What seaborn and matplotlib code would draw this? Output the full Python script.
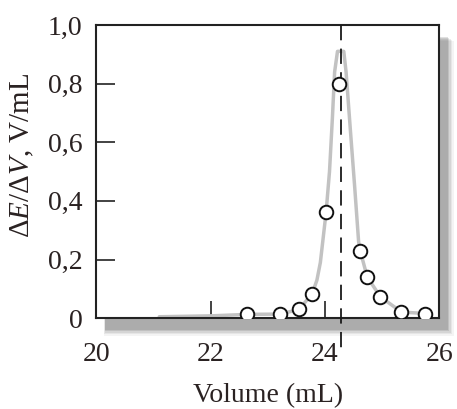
import numpy as np
import pandas as pd
import matplotlib
matplotlib.use("Agg")
import matplotlib.pyplot as plt
from matplotlib.patches import Rectangle
import seaborn as sns

# ---- data ----
vol_pts = [22.64, 23.21, 23.55, 23.78, 24.02, 24.25, 24.62, 24.74, 24.97, 25.34, 25.75]
dEdV_pts = [0.013, 0.014, 0.030, 0.084, 0.362, 0.800, 0.228, 0.141, 0.073, 0.021, 0.016]

curve_x = [21.1, 22.0, 22.64, 23.21, 23.55, 23.78, 23.86, 23.92, 24.02, 24.08, 24.13, 24.17,
           24.22, 24.33, 24.37, 24.45, 24.52, 24.59, 24.62, 24.74, 24.97, 25.34, 25.75, 25.85]
curve_y = [0.005, 0.008, 0.013, 0.014, 0.030, 0.085, 0.13, 0.19, 0.36, 0.50, 0.68, 0.84,
           0.91, 0.91, 0.84, 0.63, 0.45, 0.26, 0.228, 0.141, 0.073, 0.021, 0.016, 0.015]

endpoint_x = 24.29
x_ticks = [20, 22, 24, 26]
x_ticklabels = ["20", "22", "24", "26"]
y_ticks = [0, 0.2, 0.4, 0.6, 0.8, 1.0]
y_ticklabels = ["0", "0,2", "0,4", "0,6", "0,8", "1,0"]

sns.set_theme(style="white")
plt.rcParams["font.family"] = ["Liberation Serif", "DejaVu Serif"]
plt.rcParams["mathtext.fontset"] = "custom"
plt.rcParams["mathtext.rm"] = "Liberation Serif"
plt.rcParams["mathtext.it"] = "Liberation Serif:italic"
plt.rcParams["lines.scale_dashes"] = False

TXT = "#2a2222"

fig = plt.figure(figsize=(4.57, 4.09), dpi=100)
L, R, B, T = 0.211, 0.961, 0.222, 0.939
ax = fig.add_axes([L, B, R - L, T - B])
ax.set_facecolor("white")

# soft drop shadow (stacked translucent layers)
W, H = 457.0, 409.0
dx, dy = 9 / W, 12 / H
for a, grow in [(0.06, 6), (0.08, 4), (0.10, 2.5), (0.14, 1), (0.16, 0)]:
    gx, gy = grow / W, grow / H
    fig.patches.append(Rectangle((L + dx - gx * 0.3, B - dy - gy), (R - L) + gx * 1.3, (T - B) + gy * 0.3,
                                 transform=fig.transFigure, facecolor="#444444",
                                 alpha=a, edgecolor="none", zorder=-1))

curve_df = pd.DataFrame({"Volume": curve_x, "dEdV": curve_y})
pts_df = pd.DataFrame({"Volume": vol_pts, "dEdV": dEdV_pts})

sns.lineplot(data=curve_df, x="Volume", y="dEdV", ax=ax, color="#c2c2c2",
             linewidth=2.5, sort=False, zorder=2)

ax.plot([endpoint_x, endpoint_x], [1.0, -0.115], color="#1a1a1a", linewidth=1.3,
        dashes=(11, 6), clip_on=False, zorder=3)

sns.scatterplot(data=pts_df, x="Volume", y="dEdV", ax=ax, s=95, marker="o",
                facecolor="white", edgecolor="#111111", linewidth=1.4, zorder=4)

ax.set_xlim(20, 26)
ax.set_ylim(0, 1.0)
ax.set_xticks(x_ticks)
ax.set_xticklabels(x_ticklabels)
ax.set_yticks(y_ticks)
ax.set_yticklabels(y_ticklabels)

for s in ax.spines.values():
    s.set_visible(True)
    s.set_color("#222222")
    s.set_linewidth(1.5)

ax.tick_params(axis="x", direction="in", length=12.5, width=1.2, color="#222222",
               pad=17, labelsize=20, labelcolor=TXT, bottom=True)
ax.tick_params(axis="y", direction="in", length=14, width=1.2, color="#222222",
               pad=10, labelsize=20, labelcolor=TXT, left=True)

ax.set_xlabel("Volume (mL)", fontsize=20, color=TXT, labelpad=12)
ax.set_ylabel(r"$\Delta E/\Delta V$, V/mL", fontsize=21, color=TXT)
ax.yaxis.set_label_coords(-0.175, 0.555)

fig.savefig("out.png", dpi=100)
